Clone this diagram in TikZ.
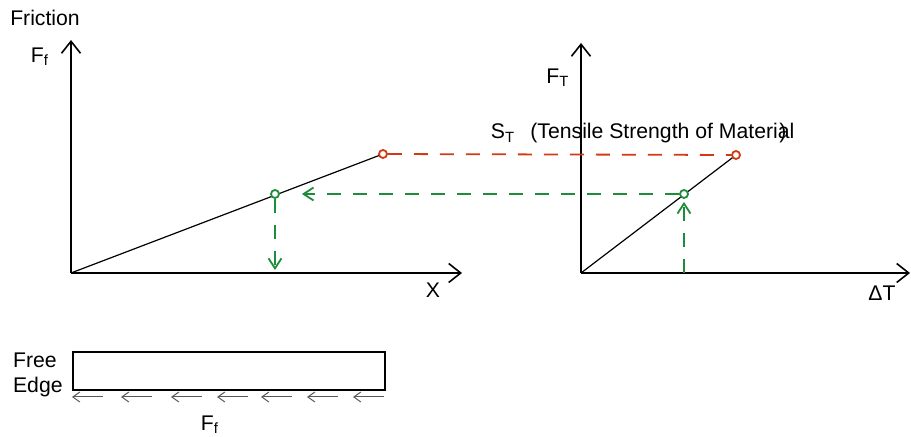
\documentclass[tikz,border=0pt]{standalone}
\usepackage{fontspec}
\setmainfont{Liberation Sans}
\usetikzlibrary{arrows.meta,positioning,calc}
\definecolor{cred}{HTML}{D23A14}
\definecolor{cgreen}{HTML}{1E8C3A}
\definecolor{cink}{HTML}{000000}
\begin{document}
\begin{tikzpicture}[
  x=0.5pt, y=-0.5pt,
  font=\fontsize{10.6}{12.5}\selectfont,
  axis/.style={-{Straight Barb[length=6pt, width=9.5pt]}, line width=0.8pt, cink},
  curve/.style={line width=0.6pt, cink},
  dot/.style={circle, line width=0.9pt, inner sep=0pt, minimum size=4pt, fill=white},
  limit/.style={dash pattern=on 7pt off 6pt, line width=0.9pt, cred},
  trace/.style={dash pattern=on 7pt off 6pt, line width=0.9pt, cgreen,
                -{Straight Barb[length=5pt, width=6.5pt]}},
  pull/.style={-{Straight Barb[length=3.5pt, width=5pt]}, line width=0.5pt, black!65},
  lab/.style={inner sep=0pt},
]
\useasboundingbox (0,0) rectangle (911,437);
% ---------- left graph: friction along x ----------
\coordinate (o1) at (71,273);
\coordinate (y1) at (71,40);
\coordinate (x1) at (462,273);
\coordinate (g1foot) at (275,270);
\draw[axis] (o1) -- (y1);
\draw[axis] (o1) -- (x1);
\node[lab] (fric) at (45,18) {Friction};
\node[lab] (ff) at (40,57) {F\textsubscript{f}};
\node[lab] (xl) at (433,290) {X};
\draw[curve] (o1) -- (383,154) coordinate (r1c);
\node[dot, draw=cred] (r1) at (r1c) {};
\node[dot, draw=cgreen] (g1) at (275,194) {};
% ---------- right graph: tension vs temperature ----------
\coordinate (o2) at (581,273);
\coordinate (y2) at (581,43);
\coordinate (x2) at (910,273);
\coordinate (g2foot) at (684,273);
\draw[axis] (o2) -- (y2);
\draw[axis] (o2) -- (x2);
\node[lab] (ft) at (558,78) {F\textsubscript{T}};
\node[lab] (dt) at (882,293) {ΔT};
\draw[curve] (o2) -- (736,155) coordinate (r2c);
\node[dot, draw=cred] (r2) at (r2c) {};
\node[dot, draw=cgreen] (g2) at (684,194) {};
\node[lab] (st) at (503,133) {S\textsubscript{T}};
\node[lab, anchor=west] (stxt) at (530,133) {(Tensile Strength of Material};
\node[lab] (brk) at (783,133) {)};
% ---------- links between the graphs ----------
\draw[limit] (r1) -- (r2);
\draw[trace, shorten >=11pt] (g2) -- (g1);
\draw[trace] (g1) -- (g1foot);
\draw[trace, shorten >=1.5pt] (g2foot) -- (g2);
% ---------- slab with friction along its base ----------
\node[draw, line width=1pt, minimum width=156pt, minimum height=19pt, inner sep=0pt,
      anchor=north west] (slab) at (72,351) {};
\node[lab, anchor=east, align=left] (free) at (63,375) {Free\\Edge};
\foreach \t in {72,121,171,217,261,307,353}{
  \coordinate (tip) at (\t,397);
  \coordinate (tail) at (\t+31,397);
  \draw[pull] (tail) -- (tip);
}
\node[lab] (fbot) at (210,425) {F\textsubscript{f}};
\end{tikzpicture}
\end{document}
